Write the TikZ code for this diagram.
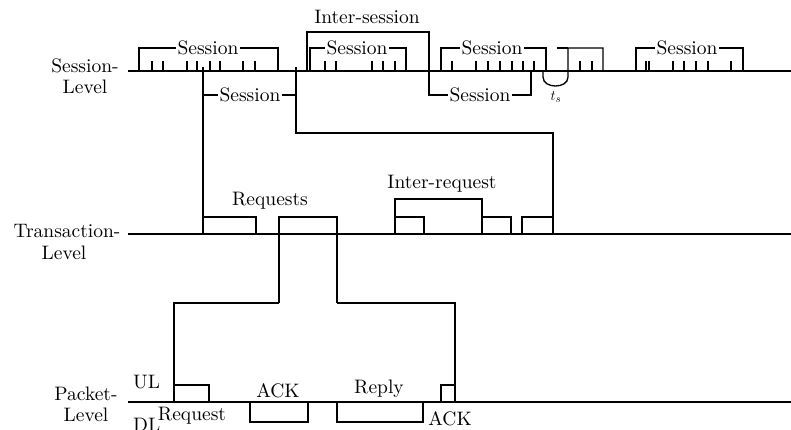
\documentclass[tikz,border=0pt]{standalone}
\usepackage{fontspec}
\setmainfont{lmroman10-regular.otf}
\begin{document}
\begin{tikzpicture}[x=1pt,y=-1pt,
  ln/.style={line width=1.3pt, line join=miter},
  lbl/.style={font=\fontsize{19.5}{23}\selectfont, inner sep=0pt, anchor=base},
  blbl/.style={font=\fontsize{19.5}{23}\selectfont, inner sep=1.5pt, fill=white, anchor=center},
  tick/.style={line width=1.3pt}]
\useasboundingbox (0,0) rectangle (791,429);

% ---------- level labels ----------
\node[lbl] (sl1) at (85,72) {Session-};
\node[lbl] (sl2) at (85,93) {Level};
\node[lbl] (tl1) at (67,237) {Transaction-};
\node[lbl] (tl2) at (64,259) {Level};
\node[lbl] (pl1) at (86,400) {Packet-};
\node[lbl] (pl2) at (86,421) {Level};
\node[lbl, anchor=base west] (ul) at (133,388) {UL};
\node[lbl, anchor=base west] (dl) at (133,431) {DL};

% ---------- session level ----------
\draw[ln] (128,71) -- (791,71);
% block 1
\draw[ln] (139,71) -- (139,48) -- (278,48) -- (278,71);
\foreach \x in {152,163,187,197,210,220,243,255} \draw[tick] (\x,71) -- (\x,61);
\node[blbl] (s1) at (208,48) {Session};
% lower session 1 and link to transaction level
\draw[ln] (203,67) -- (203,234);
\draw[ln] (203,95) -- (296,95);
\draw[ln] (296,67) -- (296,133) -- (553,133) -- (553,234);
\node[blbl] (s1b) at (250,95) {Session};
% inter-session
\draw[ln] (307,71) -- (307,32) -- (429,32) -- (429,95) -- (531,95) -- (531,71);
\node[lbl] (inter) at (367,23) {Inter-session};
\node[blbl] (s2b) at (480,95) {Session};
% block 2
\draw[ln] (310,71) -- (310,48) -- (406,48) -- (406,71);
\foreach \x in {325,336,372,383,395} \draw[tick] (\x,71) -- (\x,61);
\node[blbl] (s2) at (357,48) {Session};
% block 3
\draw[ln] (441,71) -- (441,48) -- (546,48) -- (546,71);
\foreach \x in {452,476,488,500,512,523,534} \draw[tick] (\x,71) -- (\x,61);
\node[blbl] (s3) at (492,48) {Session};
% t_s gap and block 4
\draw[ln] (543,71) -- (543,77) .. controls (543,89) and (568,89) .. (568,77) -- (568,48) -- (603,48) -- (603,71);
\draw[ln] (557,48) -- (568,48);
\foreach \x in {580,592} \draw[tick] (\x,71) -- (\x,61);
\node[font=\fontsize{15}{18}\selectfont, inner sep=0pt, anchor=base] (ts) at (556,100) {$t_s$};
% block 5
\draw[ln] (636,71) -- (636,48) -- (743,48) -- (743,72);
\foreach \x in {646,649,673,684,696,708,731} \draw[tick] (\x,71) -- (\x,61);
\node[blbl] (s5) at (687,48) {Session};

% ---------- transaction level ----------
\draw[ln] (128,234) -- (791,234);
\draw[ln] (203,217) -- (256,217) -- (256,234);
\draw[ln] (279,303) -- (279,217) -- (337,217) -- (337,303);
\node[lbl] (req) at (270,205) {Requests};
\draw[ln] (395,234) -- (395,199) -- (482,199) -- (482,234);
\draw[ln] (395,217) -- (424,217) -- (424,234);
\draw[ln] (482,217) -- (511,217) -- (511,234);
\draw[ln] (522,234) -- (522,217) -- (553,217);
\node[lbl] (ireq) at (442,188) {Inter-request};
% link to packet level
\draw[ln] (279,303) -- (174,303) -- (174,402);
\draw[ln] (337,303) -- (455,303) -- (455,402);

% ---------- packet level ----------
\draw[ln] (128,402) -- (791,402);
\draw[ln] (174,385) -- (209,385) -- (209,402);
\node[lbl] (rq) at (192,420) {Request};
\draw[ln] (250,402) -- (250,422) -- (308,422) -- (308,402);
\node[lbl] (ack1) at (278,397) {ACK};
\draw[ln] (337,402) -- (337,422) -- (423,422) -- (423,402);
\node[lbl] (rep) at (379,393) {Reply};
\draw[ln] (441,402) -- (441,385) -- (455,385);
\node[lbl] (ack2) at (450,425) {ACK};
\end{tikzpicture}
\end{document}
